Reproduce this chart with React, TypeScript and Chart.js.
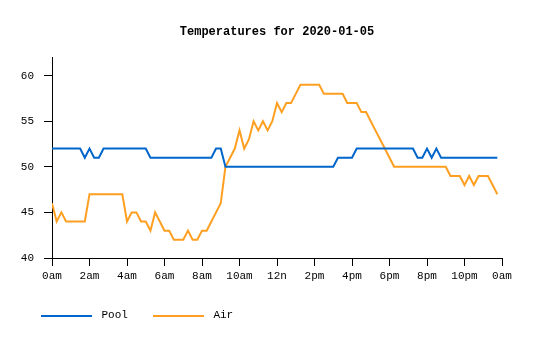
import React, { useEffect, useRef } from "react";
import { Chart, registerables } from "chart.js";

Chart.register(...registerables);

const TITLE = "Temperatures for 2020-01-05";
const SAMPLES_PER_HOUR = 4; // one reading every 15 minutes

const xTickHours = [0, 2, 4, 6, 8, 10, 12, 14, 16, 18, 20, 22, 24];
const xTickLabels = ["0am", "2am", "4am", "6am", "8am", "10am", "12n", "2pm", "4pm", "6pm", "8pm", "10pm", "0am"];
const yTicks = [40, 45, 50, 55, 60];

const poolTemps = [
  52, 52, 52, 52, 52, 52, 52, 51, 52, 51, 51, 52, 52, 52, 52, 52,
  52, 52, 52, 52, 52, 51, 51, 51, 51, 51, 51, 51, 51, 51, 51, 51,
  51, 51, 51, 52, 52, 50, 50, 50, 50, 50, 50, 50, 50, 50, 50, 50,
  50, 50, 50, 50, 50, 50, 50, 50, 50, 50, 50, 50, 50, 51, 51, 51,
  51, 52, 52, 52, 52, 52, 52, 52, 52, 52, 52, 52, 52, 52, 51, 51,
  52, 51, 52, 51, 51, 51, 51, 51, 51, 51, 51, 51, 51, 51, 51, 51,
];

const airTemps = [
  46, 44, 45, 44, 44, 44, 44, 44, 47, 47, 47, 47, 47, 47, 47, 47,
  44, 45, 45, 44, 44, 43, 45, 44, 43, 43, 42, 42, 42, 43, 42, 42,
  43, 43, 44, 45, 46, 50, 51, 52, 54, 52, 53, 55, 54, 55, 54, 55,
  57, 56, 57, 57, 58, 59, 59, 59, 59, 59, 58, 58, 58, 58, 58, 57,
  57, 57, 56, 56, 55, 54, 53, 52, 51, 50, 50, 50, 50, 50, 50, 50,
  50, 50, 50, 50, 50, 49, 49, 49, 48, 49, 48, 49, 49, 49, 48, 47,
];

const POOL_COLOR = "#0066cc";
const AIR_COLOR = "#ff9f21";
const FONT = "'Liberation Mono', 'DejaVu Sans Mono', monospace";

const toPoints = (vals: number[]) =>
  vals.map((v, i) => ({ x: i / SAMPLES_PER_HOUR, y: v }));

// legend swatch: a short horizontal line segment
const makeSwatch = (color: string) => {
  const c = document.createElement("canvas");
  c.width = 51;
  c.height = 2;
  const ctx = c.getContext("2d");
  if (ctx) {
    ctx.fillStyle = color;
    ctx.fillRect(0, 0, 51, 2);
  }
  return c;
};

export default function App() {
  const ref = useRef<HTMLCanvasElement | null>(null);

  useEffect(() => {
    if (!ref.current) return;
    const chart = new Chart(ref.current, {
      type: "line",
      data: {
        datasets: [
          {
            label: "Pool",
            data: toPoints(poolTemps),
            borderColor: POOL_COLOR,
            backgroundColor: POOL_COLOR,
            borderWidth: 2,
            pointRadius: 0,
            tension: 0,
            fill: false,
          },
          {
            label: "Air",
            data: toPoints(airTemps),
            borderColor: AIR_COLOR,
            backgroundColor: AIR_COLOR,
            borderWidth: 2,
            pointRadius: 0,
            tension: 0,
            fill: false,
          },
        ],
      },
      options: {
        responsive: false,
        animation: false,
        layout: { padding: { left: 16, right: 33, top: 0, bottom: 9 } },
        font: { family: FONT },
        plugins: {
          title: {
            display: true,
            text: TITLE,
            fullSize: false,
            color: "#000",
            font: { family: FONT, size: 12, weight: "bold" },
            padding: { top: 25, bottom: 18 },
          },
          legend: {
            display: true,
            position: "bottom",
            align: "start",
            labels: {
              usePointStyle: true,
              pointStyleWidth: 59,
              boxHeight: 2,
              padding: 21,
              color: "#000",
              font: { family: FONT, size: 11 },
              generateLabels: (c: any) =>
                c.data.datasets.map((ds: any, i: number) => ({
                  text: ds.label,
                  fillStyle: ds.borderColor,
                  strokeStyle: ds.borderColor,
                  lineWidth: 0,
                  pointStyle: makeSwatch(ds.borderColor),
                  hidden: !c.isDatasetVisible(i),
                  datasetIndex: i,
                })),
            },
          },
          tooltip: { enabled: false },
        },
        scales: {
          x: {
            type: "linear",
            min: 0,
            max: 24,
            afterBuildTicks: (s: any) => {
              s.ticks = xTickHours.map((v) => ({ value: v }));
            },
            afterFit: (s: any) => {
              s.height = 31;
            },
            grid: { drawOnChartArea: false, color: "#000", tickLength: 8 },
            border: { color: "#000" },
            ticks: {
              color: "#000",
              font: { family: FONT, size: 11 },
              padding: 3,
              maxRotation: 0,
              autoSkip: false,
              callback: (v: any) => {
                const idx = xTickHours.indexOf(Number(v));
                return idx >= 0 ? xTickLabels[idx] : "";
              },
            },
          },
          y: {
            type: "linear",
            min: 40,
            max: 62,
            afterBuildTicks: (s: any) => {
              s.ticks = yTicks.map((v) => ({ value: v }));
            },
            afterFit: (s: any) => {
              s.width = 36;
            },
            grid: { drawOnChartArea: false, color: "#000", tickLength: 8 },
            border: { color: "#000" },
            ticks: {
              color: "#000",
              font: { family: FONT, size: 11 },
              padding: 10,
              callback: (v: any) => String(v),
            },
          },
        },
      },
    });
    return () => chart.destroy();
  }, []);

  return (
    <div style={{ position: "absolute", left: 0, top: 0, width: 535, height: 340, background: "#fff" }}>
      <canvas ref={ref} width={535} height={340} style={{ width: 535, height: 340, display: "block" }} />
    </div>
  );
}
